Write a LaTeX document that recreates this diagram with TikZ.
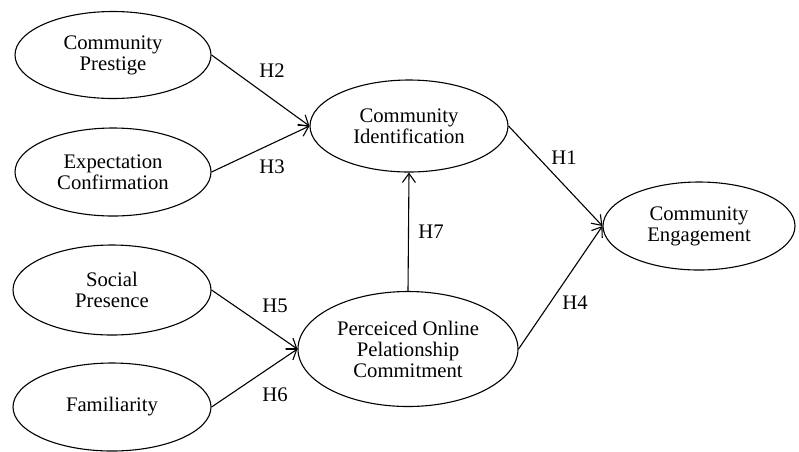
\documentclass[tikz,border=0pt]{standalone}
\usepackage{fontspec}
\setmainfont{Liberation Serif}
\usetikzlibrary{shapes.geometric,arrows.meta}
\begin{document}
\begin{tikzpicture}[x=1pt,y=-1pt,
  var/.style={ellipse,draw,line width=1.1pt,inner sep=0pt,align=center,
    font=\fontsize{20.7}{21}\selectfont},
  link/.style={draw,line width=1.1pt,-{Straight Barb[length=9pt,width=13pt,line width=1.1pt]}},
  hyp/.style={font=\fontsize{20.7}{21}\selectfont,inner sep=0pt}]
\useasboundingbox (0,0) rectangle (799,451);
\node[var,minimum width=196pt,minimum height=87pt] (cp) at (113,55) {Community\\Prestige};
\node[var,minimum width=196pt,minimum height=88pt] (ec) at (113,172) {Expectation\\Confirmation};
\node[var,minimum width=198pt,minimum height=90pt] (sp) at (112,290) {Social\\Presence};
\node[var,minimum width=198pt,minimum height=88pt] (fa) at (112,407) {Familiarity};
\node[var,minimum width=198pt,minimum height=92pt] (ci) at (409,126) {Community\\Identification};
\node[var,minimum width=220pt,minimum height=115pt] (po) at (408,349) {Perceiced Online\\Pelationship\\Commitment};
\node[var,minimum width=192pt,minimum height=88pt] (ce) at (699,226) {Community\\Engagement};
\draw[link] (cp.east) -- (ci.west);
\draw[link] (ec.east) -- (ci.west);
\draw[link] (ci.east) -- (ce.west);
\draw[link] (po.north) -- (ci.south);
\draw[link] (po.east) -- (ce.west);
\draw[link] (sp.east) -- (po.west);
\draw[link] (fa.east) -- (po.west);
\node[hyp] (h2) at (272,71) {H2};
\node[hyp] (h3) at (272,167) {H3};
\node[hyp] (h1) at (564,158) {H1};
\node[hyp] (h7) at (431,232) {H7};
\node[hyp] (h4) at (575,303) {H4};
\node[hyp] (h5) at (275,306) {H5};
\node[hyp] (h6) at (275,395) {H6};
\end{tikzpicture}
\end{document}
